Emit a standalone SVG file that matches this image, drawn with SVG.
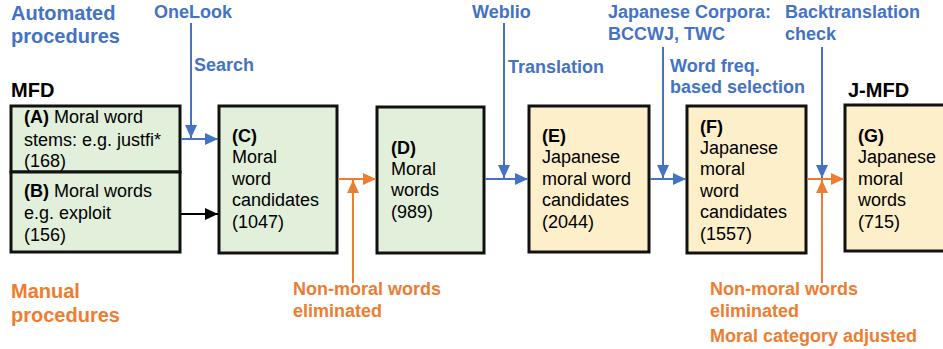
<svg xmlns="http://www.w3.org/2000/svg" width="943" height="349" viewBox="0 0 943 349">
<style>
text{font-family:"Liberation Sans",Arial,sans-serif}
.n{font-size:18px;fill:#000}
.b{font-weight:bold}
.h{font-size:20px;font-weight:bold}
.lb{font-size:18px;font-weight:bold;fill:#4472C4}
.lo{font-size:18px;font-weight:bold;fill:#ED7D31}
.g{fill:#E2EFDA;stroke:#111;stroke-width:3}
.y{fill:#FCEFCA;stroke:#111;stroke-width:3}
.cb{stroke:#4472C4;stroke-width:2;fill:none}
.co{stroke:#ED7D31;stroke-width:2;fill:none}
.ck{stroke:#000;stroke-width:2;fill:none}
</style>
<defs>
<marker id="ab" markerUnits="userSpaceOnUse" markerWidth="14" markerHeight="12" refX="13" refY="6" orient="auto"><path d="M0,0 L13,6 L0,12 Z" fill="#4472C4"/></marker>
<marker id="ao" markerUnits="userSpaceOnUse" markerWidth="14" markerHeight="12" refX="13" refY="6" orient="auto"><path d="M0,0 L13,6 L0,12 Z" fill="#ED7D31"/></marker>
<marker id="ak" markerUnits="userSpaceOnUse" markerWidth="14" markerHeight="12" refX="13" refY="6" orient="auto"><path d="M0,0 L13,6 L0,12 Z" fill="#000"/></marker>
</defs>

<g id="headings">
<text class="h" x="11" y="20" fill="#4472C4">Automated</text>
<text class="h" x="11" y="43" fill="#4472C4">procedures</text>
<text class="h" x="11" y="298" fill="#ED7D31">Manual</text>
<text class="h" x="11" y="322" fill="#ED7D31">procedures</text>
<text class="h" x="11" y="97">MFD</text>
<text class="h" x="848" y="97">J-MFD</text>
</g>

<g id="labels">
<text class="lb" x="154" y="18">OneLook</text>
<text class="lb" x="194" y="71">Search</text>
<text class="lb" x="472" y="18">Weblio</text>
<text class="lb" x="508" y="73">Translation</text>
<text class="lb" x="608" y="18">Japanese Corpora:</text>
<text class="lb" x="608" y="40">BCCWJ, TWC</text>
<text class="lb" x="670" y="72">Word freq.</text>
<text class="lb" x="670" y="93">based selection</text>
<text class="lb" x="785" y="18">Backtranslation</text>
<text class="lb" x="785" y="40">check</text>
<text class="lo" x="293" y="295">Non-moral words</text>
<text class="lo" x="293" y="317">eliminated</text>
<text class="lo" x="710" y="295">Non-moral words</text>
<text class="lo" x="710" y="317">eliminated</text>
<text class="lo" x="710" y="342">Moral category adjusted</text>
</g>

<g id="nodeA">
<rect class="g" x="11" y="106" width="169" height="66"/>
<text class="n" x="24" y="123"><tspan class="b">(A)</tspan> Moral word</text>
<text class="n" x="24" y="146">stems: e.g. justfi*</text>
<text class="n" x="24" y="167">(168)</text>
</g>
<g id="nodeB">
<rect class="g" x="11" y="172" width="169" height="80"/>
<text class="n" x="24" y="197"><tspan class="b">(B)</tspan> Moral words</text>
<text class="n" x="24" y="219">e.g. exploit</text>
<text class="n" x="24" y="241">(156)</text>
</g>
<g id="nodeC">
<rect class="g" x="219" y="106" width="118" height="147"/>
<text class="n" x="232" y="142"><tspan class="b">(C)</tspan></text>
<text class="n" x="232" y="163">Moral</text>
<text class="n" x="232" y="185">word</text>
<text class="n" x="232" y="206">candidates</text>
<text class="n" x="232" y="228">(1047)</text>
</g>
<g id="nodeD">
<rect class="g" x="377" y="107" width="107" height="146"/>
<text class="n" x="391" y="154"><tspan class="b">(D)</tspan></text>
<text class="n" x="391" y="175">Moral</text>
<text class="n" x="391" y="196">words</text>
<text class="n" x="391" y="218">(989)</text>
</g>
<g id="nodeE">
<rect class="y" x="529" y="106" width="120" height="146"/>
<text class="n" x="542" y="142"><tspan class="b">(E)</tspan></text>
<text class="n" x="542" y="163">Japanese</text>
<text class="n" x="542" y="185">moral word</text>
<text class="n" x="542" y="206">candidates</text>
<text class="n" x="542" y="228">(2044)</text>
</g>
<g id="nodeF">
<rect class="y" x="687" y="106" width="119" height="147"/>
<text class="n" x="700" y="133"><tspan class="b">(F)</tspan></text>
<text class="n" x="700" y="154">Japanese</text>
<text class="n" x="700" y="175">moral</text>
<text class="n" x="700" y="197">word</text>
<text class="n" x="700" y="218">candidates</text>
<text class="n" x="700" y="240">(1557)</text>
</g>
<g id="nodeG">
<rect class="y" x="845" y="105" width="110" height="146"/>
<text class="n" x="858" y="142"><tspan class="b">(G)</tspan></text>
<text class="n" x="858" y="163">Japanese</text>
<text class="n" x="858" y="185">moral</text>
<text class="n" x="858" y="206">words</text>
<text class="n" x="858" y="228">(715)</text>
</g>

<g id="connectors">
<line class="cb" x1="181" y1="139" x2="218" y2="139" marker-end="url(#ab)"/>
<line class="cb" x1="191" y1="23" x2="191" y2="138" marker-end="url(#ab)"/>
<line class="ck" x1="181" y1="214" x2="218" y2="214" marker-end="url(#ak)"/>
<line class="co" x1="338" y1="179" x2="376" y2="179" marker-end="url(#ao)"/>
<line class="co" x1="353" y1="283" x2="353" y2="180" marker-end="url(#ao)"/>
<line class="cb" x1="485" y1="179" x2="528" y2="179" marker-end="url(#ab)"/>
<line class="cb" x1="504" y1="23" x2="504" y2="178" marker-end="url(#ab)"/>
<line class="cb" x1="650" y1="179" x2="686" y2="179" marker-end="url(#ab)"/>
<line class="cb" x1="663" y1="47" x2="663" y2="178" marker-end="url(#ab)"/>
<line class="co" x1="807" y1="179" x2="844" y2="179" marker-end="url(#ao)"/>
<line class="cb" x1="822" y1="47" x2="822" y2="178" marker-end="url(#ab)"/>
<line class="co" x1="822" y1="283" x2="822" y2="180" marker-end="url(#ao)"/>
</g>
</svg>
